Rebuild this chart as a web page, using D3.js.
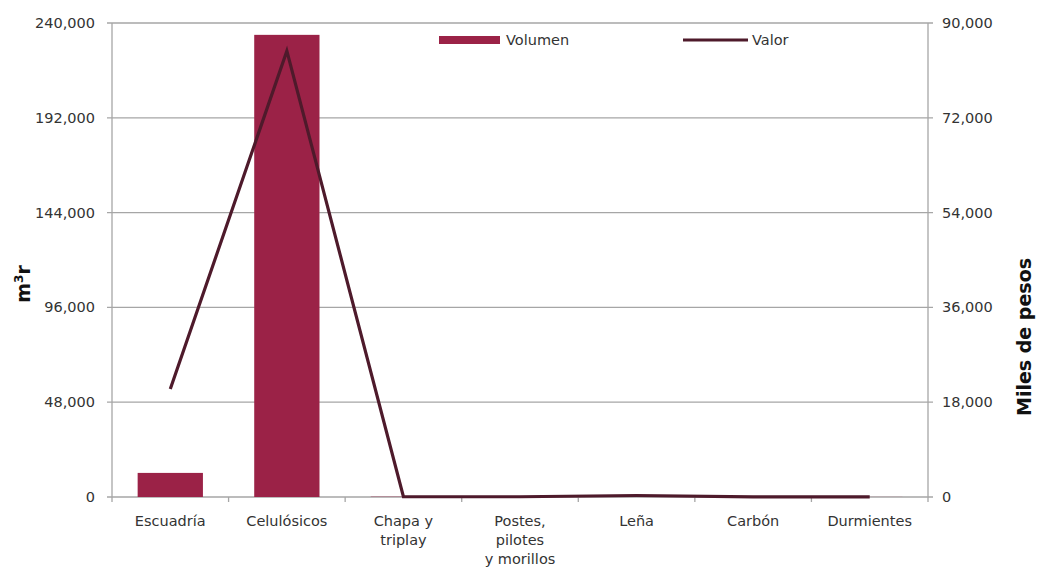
<!DOCTYPE html>
<html><head><meta charset="utf-8">
<script src="https://cdn.jsdelivr.net/npm/d3@7"></script>
<style>body{margin:0;background:#fff;font-family:"DejaVu Sans",sans-serif;}</style>
</head><body><svg id="c" width="1044" height="567"></svg>
<script>
const categories = ["Escuadría","Celulósicos","Chapa y\ntriplay","Postes,\npilotes\ny morillos","Leña","Carbón","Durmientes"];
const volumen = [12200, 234000, 150, 120, 300, 60, 40];
const valor = [20500, 84700, 60, 50, 280, 40, 20];
const leftTicks = [0,48000,96000,144000,192000,240000];
const rightTicks = [0,18000,36000,54000,72000,90000];

const svg = d3.select("#c").style("font-family","'DejaVu Sans',sans-serif");
const L=112, R=928, T=23, B=497;
const x = d3.scaleBand().domain(categories).range([L,R]).paddingInner(0.44).paddingOuter(0.22);
const xc = d3.scaleBand().domain(categories).range([L,R]);
const yL = d3.scaleLinear().domain([0,240000]).range([B,T]);
const yR = d3.scaleLinear().domain([0,90000]).range([B,T]);
const fmt = d3.format(",");

svg.append("g").selectAll("line").data(leftTicks).join("line")
  .attr("x1",L-5).attr("x2",R+5).attr("y1",d=>yL(d)).attr("y2",d=>yL(d))
  .attr("stroke","#a6a6a6").attr("stroke-width",1.3);
svg.append("line").attr("x1",L).attr("x2",L).attr("y1",T).attr("y2",B).attr("stroke","#a6a6a6").attr("stroke-width",1.3);
svg.append("line").attr("x1",R).attr("x2",R).attr("y1",T).attr("y2",B).attr("stroke","#a6a6a6").attr("stroke-width",1.3);
svg.append("g").selectAll("line").data(d3.range(categories.length+1)).join("line")
  .attr("x1",i=>L+i*xc.step()).attr("x2",i=>L+i*xc.step()).attr("y1",B).attr("y2",B+5)
  .attr("stroke","#a6a6a6").attr("stroke-width",1.3);

svg.append("g").selectAll("text").data(leftTicks).join("text")
  .attr("x",L-17).attr("y",d=>yL(d)).attr("dy","0.35em").attr("text-anchor","end")
  .attr("font-size",14.5).attr("fill","#333").text(d=>fmt(d));
svg.append("g").selectAll("text").data(rightTicks).join("text")
  .attr("x",R+14).attr("y",d=>yR(d)).attr("dy","0.35em").attr("text-anchor","start")
  .attr("font-size",14.5).attr("fill","#333").text(d=>fmt(d));

svg.append("g").selectAll("rect").data(categories).join("rect")
  .attr("x",d=>x(d)).attr("width",x.bandwidth())
  .attr("y",(d,i)=>yL(volumen[i])).attr("height",(d,i)=>B-yL(volumen[i]))
  .attr("fill","#9b2247");

const line = d3.line().x((d,i)=>xc(categories[i])+xc.bandwidth()/2).y(d=>yR(d));
svg.append("path").datum(valor).attr("d",line).attr("fill","none")
  .attr("stroke","#4e1a2b").attr("stroke-width",3.2).attr("stroke-linejoin","miter");

const cl = svg.append("g").selectAll("text").data(categories).join("text")
  .attr("x",d=>xc(d)+xc.bandwidth()/2).attr("y",526).attr("text-anchor","middle")
  .attr("font-size",14.5).attr("fill","#333");
cl.each(function(d){
  const t=d3.select(this);
  d.split("\n").forEach((s,j)=>t.append("tspan").attr("x",xc(d)+xc.bandwidth()/2).attr("dy",j?19:0).text(s));
});

svg.append("text").attr("transform","translate(30,284) rotate(-90)").attr("text-anchor","middle")
  .attr("font-size",19).attr("font-weight","bold").attr("fill","#111").html("m<tspan baseline-shift='super' font-size='12'>3</tspan>r");
svg.append("text").attr("transform","translate(1031,337) rotate(-90)").attr("text-anchor","middle")
  .attr("font-size",19).attr("font-weight","bold").attr("fill","#111").text("Miles de pesos");

svg.append("rect").attr("x",439).attr("y",36).attr("width",61).attr("height",8).attr("fill","#9b2247");
svg.append("text").attr("x",506).attr("y",40).attr("dy","0.35em").attr("font-size",14.5).attr("fill","#333").text("Volumen");
svg.append("line").attr("x1",683).attr("x2",748).attr("y1",40).attr("y2",40).attr("stroke","#4e1a2b").attr("stroke-width",3.2);
svg.append("text").attr("x",752).attr("y",40).attr("dy","0.35em").attr("font-size",14.5).attr("fill","#333").text("Valor");
</script></body></html>
